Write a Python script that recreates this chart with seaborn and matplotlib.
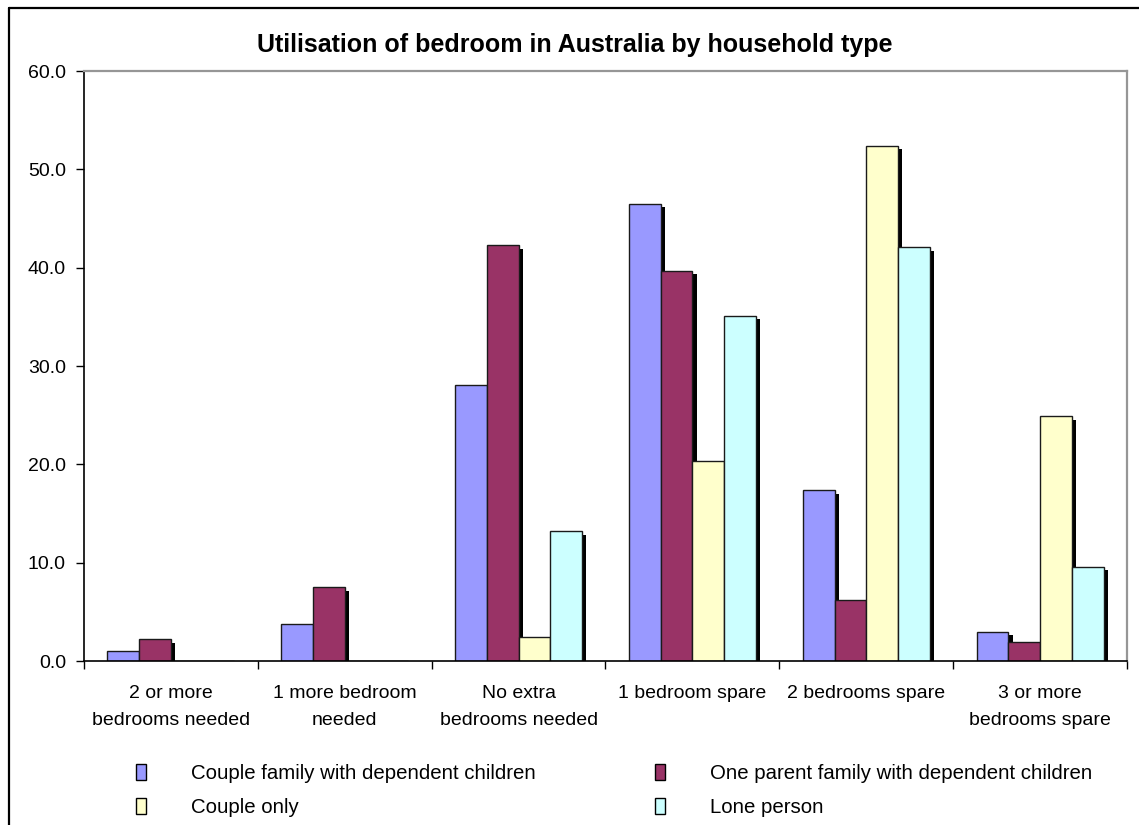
import numpy as np
import pandas as pd
import matplotlib
matplotlib.use("Agg")
import matplotlib.pyplot as plt
import matplotlib.patheffects as pe
from matplotlib.lines import Line2D
from matplotlib.patches import Patch
import seaborn as sns

# Bedroom utilisation categories (x axis)
categories = [
    "2 or more\nbedrooms needed",
    "1 more bedroom\nneeded",
    "No extra\nbedrooms needed",
    "1 bedroom spare",
    "2 bedrooms spare",
    "3 or more\nbedrooms spare",
]
households = [
    "Couple family with dependent children",
    "One parent family with dependent children",
    "Couple only",
    "Lone person",
]
# Percentage of households in each category
couple_children = [1.0, 3.8, 28.1, 46.5, 17.4, 3.0]
one_parent = [2.2, 7.5, 42.3, 39.7, 6.2, 1.9]
couple_only = [0.0, 0.0, 2.4, 20.3, 52.4, 24.9]
lone_person = [0.0, 0.0, 13.2, 35.1, 42.1, 9.6]
colors = ["#9999FF", "#993366", "#FFFFCC", "#CCFFFF"]
y_ticks = [0, 10, 20, 30, 40, 50, 60]
title = "Utilisation of bedroom in Australia by household type"

series = [couple_children, one_parent, couple_only, lone_person]
df = pd.DataFrame(
    [
        {"category": c, "household": h, "value": v}
        for h, vals in zip(households, series)
        for c, v in zip(categories, vals)
    ]
)

sns.set_style("white")
plt.rcParams["font.family"] = ["Liberation Sans", "DejaVu Sans"]
plt.rcParams["text.color"] = "black"
plt.rcParams["xtick.color"] = "black"
plt.rcParams["ytick.color"] = "black"
plt.rcParams["axes.labelcolor"] = "black"

W, H = 1139, 825
fig = plt.figure(figsize=(W / 100, H / 100), dpi=100, facecolor="white")
ax = fig.add_axes([84 / W, 1 - 661 / H, (1127 - 84) / W, (661 - 71) / H])

sns.barplot(
    data=df, x="category", y="value", hue="household",
    order=categories, hue_order=households, palette=colors,
    width=0.73, saturation=1, edgecolor="#1a1a1a", linewidth=1.0,
    errorbar=None, legend=False, ax=ax,
)

# Solid drop shadow behind every bar
for p in ax.patches:
    p.set_path_effects([
        pe.SimplePatchShadow(offset=(3, -2.6), shadow_rgbFace="black", alpha=1.0),
        pe.Normal(),
    ])

ax.set_xlim(-0.5, len(categories) - 0.5)
ax.set_ylim(0, 60)
ax.set_yticks(y_ticks)
ax.yaxis.set_major_formatter("{x:.1f}")
ax.set_xlabel("")
ax.set_ylabel("")

ax.tick_params(axis="y", which="major", direction="out", length=6, width=1,
               color="black", labelcolor="black", pad=7, labelsize=14, left=True)
ax.set_xticks(range(len(categories)))
ax.set_xticklabels(categories)
ax.set_xticks(np.arange(-0.5, len(categories), 1.0), minor=True)
ax.tick_params(axis="x", which="major", length=0, pad=17, labelsize=14,
               labelcolor="black")
ax.tick_params(axis="x", which="minor", direction="out", length=6, width=1,
               color="black", bottom=True)
for lbl in ax.get_xticklabels():
    lbl.set_linespacing(1.8)

for side in ("left", "bottom"):
    ax.spines[side].set_color("black")
    ax.spines[side].set_linewidth(1.2)
for side in ("top", "right"):
    ax.spines[side].set_color("#969696")
    ax.spines[side].set_linewidth(1.6)

fig.text(575 / W, 1 - 45 / H, title, ha="center", va="center",
         fontsize=18, fontweight="bold", color="black")

# Chart area border
fig.add_artist(Line2D([8.5 / W, 8.5 / W], [0, 1 - 7.5 / H],
                      transform=fig.transFigure, color="black", lw=1.6))
fig.add_artist(Line2D([8.5 / W, 1], [1 - 7.5 / H, 1 - 7.5 / H],
                      transform=fig.transFigure, color="black", lw=1.6))

handles = [Patch(facecolor=c, edgecolor="black", linewidth=1.0) for c in colors]
leg_kw = dict(loc="upper left", frameon=False, fontsize=14.7,
              handlelength=0.5, handleheight=0.8, handletextpad=2.2,
              labelspacing=0.75, borderpad=0, borderaxespad=0)
fig.legend(handles=[handles[0], handles[2]],
           labels=[households[0], households[2]],
           bbox_to_anchor=(136 / W, 1 - 764 / H), **leg_kw)
fig.legend(handles=[handles[1], handles[3]],
           labels=[households[1], households[3]],
           bbox_to_anchor=(655 / W, 1 - 764 / H), **leg_kw)

fig.savefig("out.png", dpi=100, facecolor="white")
